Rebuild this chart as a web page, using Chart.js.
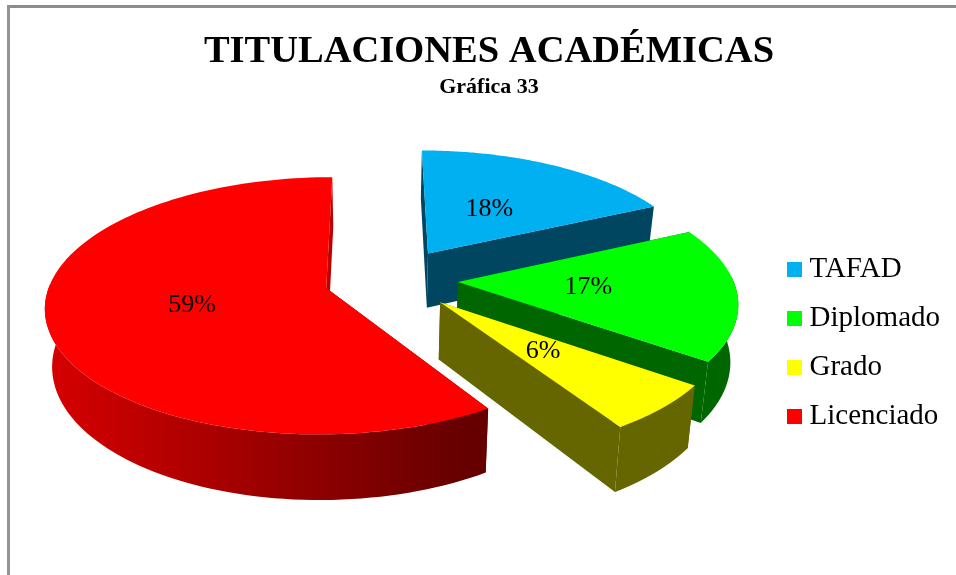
<!DOCTYPE html>
<html lang="es">
<head>
<meta charset="utf-8">
<title>Titulaciones académicas</title>
<script src="https://cdn.jsdelivr.net/npm/chart.js@4/dist/chart.umd.min.js"></script>
<style>
    html, body { margin: 0; background: #fff; overflow: hidden; }
    #lienzo { position: relative; width: 956px; height: 575px; }
    #marco { position: absolute; left: 7px; top: 5px; right: 0; bottom: 0; border-left: 3px solid #949494; border-top: 3px solid #8c8c8c; }
    canvas { position: absolute; left: 0; top: 0; }
</style>
</head>
<body>
<div id="lienzo">
    <div id="marco"></div>
    <canvas id="titulaciones" width="956" height="575"></canvas>
</div>
<script>
const categorias = ['TAFAD', 'Diplomado', 'Grado', 'Licenciado'];
const porcentajes = [18, 17, 6, 59];
const colores = ['#00b0f0', '#00ff00', '#ffff00', '#ff0000'];
const separaciones = [70, 66, 68, 68];
const posicionEtiqueta = [0.47, 0.47, 0.49, 0.49];
const luzCorte = [0.4, 0.4, 0.4, 0.75];

// Parametros de la vista en perspectiva
const inclinacion = 0.45;
const fuga = 0.0005;
const grosor = 56;
const convergencia = 0.022;
const desvioFuga = -16;

const serif = '"Liberation Serif", serif';

function oscurecer(hex, factor) {
    const n = parseInt(hex.slice(1), 16);
    const r = Math.round((n >> 16) * factor);
    const g = Math.round(((n >> 8) & 255) * factor);
    const b = Math.round((n & 255) * factor);
    return `rgb(${r}, ${g}, ${b})`;
}

// Pasa un punto del pastel plano a la pantalla (h = 0 cara superior, h = 1 base)
function proyectar(arco, x, y, h) {
    const atras = arco.y - y;
    const s = 1 / (1 + fuga * atras);
    const fx = arco.x + desvioFuga;
    return {
        x: fx + (x - fx) * s * (1 - convergencia * h),
        y: arco.y - inclinacion * atras * s + grosor * h * s
    };
}

function puntoArco(arco, angulo, radio, h) {
    const medio = (arco.startAngle + arco.endAngle) / 2;
    const d = arco.options.offset;
    const x = arco.x + Math.cos(medio) * d + Math.cos(angulo) * radio;
    const y = arco.y + Math.sin(medio) * d + Math.sin(angulo) * radio;
    return proyectar(arco, x, y, h);
}

function trazar(ctx, puntos, relleno) {
    if (!puntos.length) return;
    ctx.beginPath();
    puntos.forEach((p, i) => i ? ctx.lineTo(p.x, p.y) : ctx.moveTo(p.x, p.y));
    ctx.closePath();
    ctx.fillStyle = relleno;
    ctx.fill();
}

const pastel3d = {
    id: 'pastel3d',
    // Coloca leyenda y titulos donde van en la imagen original
    afterLayout(chart) {
        const l = chart.legend;
        const d = 343 - (l.top + l.bottom) / 2;
        l.top += d;
        l.bottom += d;
        l.left -= 6;
        l.right -= 6;
        l.adjustHitBoxes();
        chart.boxes.filter(b => b.position === 'top').forEach(b => {
            b.left += 9;
            b.right += 9;
        });
    },
    beforeDatasetsDraw(chart) {
        const ctx = chart.ctx;
        const arcos = chart.getDatasetMeta(0).data;

        arcos.forEach((arco, i) => {
            const base = colores[i];
            const r = arco.outerRadius;
            const pasos = 120;
            const superior = [];
            const frenteArriba = [];
            const frenteAbajo = [];
            for (let k = 0; k <= pasos; k++) {
                const a = arco.startAngle + (arco.endAngle - arco.startAngle) * k / pasos;
                superior.push(puntoArco(arco, a, r, 0));
                // La parte de atras de la pared exterior no se ve
                if (Math.sin(a) > -0.05) {
                    frenteArriba.push(puntoArco(arco, a, r, 0));
                    frenteAbajo.push(puntoArco(arco, a, r, 1));
                }
            }
            const vertice = puntoArco(arco, 0, 0, 0);
            const verticeBase = puntoArco(arco, 0, 0, 1);
            const baseInicio = puntoArco(arco, arco.startAngle, r, 1);
            const baseFin = puntoArco(arco, arco.endAngle, r, 1);

            // Paredes de los cortes
            trazar(ctx, [vertice, superior[0], baseInicio, verticeBase], oscurecer(base, 0.4));
            trazar(ctx, [vertice, superior[pasos], baseFin, verticeBase], oscurecer(base, luzCorte[i]));

            // Pared exterior, se apaga de izquierda a derecha
            const degradado = ctx.createLinearGradient(48, 0, 463, 0);
            degradado.addColorStop(0, oscurecer(base, 0.84));
            degradado.addColorStop(1, oscurecer(base, 0.4));
            trazar(ctx, frenteArriba.concat(frenteAbajo.reverse()), degradado);

            // Cara superior
            trazar(ctx, [vertice].concat(superior), base);
        });

        // Porcentajes sobre cada porcion
        ctx.fillStyle = '#000';
        ctx.font = '26px ' + serif;
        ctx.textAlign = 'center';
        ctx.textBaseline = 'middle';
        arcos.forEach((arco, i) => {
            const medio = (arco.startAngle + arco.endAngle) / 2;
            const p = puntoArco(arco, medio, arco.outerRadius * posicionEtiqueta[i], 0);
            ctx.fillText(porcentajes[i] + '%', p.x, p.y);
        });

        return false;
    }
};

const graficoTitulaciones = document.getElementById('titulaciones').getContext('2d');

const titulacionesChart = new Chart(graficoTitulaciones, {
    type: 'pie',
    data: {
        labels: categorias,
        datasets: [{
            data: porcentajes,
            backgroundColor: colores,
            offset: separaciones,
            radius: 275,
            borderWidth: 0
        }]
    },
    options: {
        responsive: false,
        animation: false,
        layout: {
            padding: { left: 4, right: 0, top: 0, bottom: 117 }
        },
        plugins: {
            title: {
                display: true,
                text: 'TITULACIONES ACADÉMICAS',
                color: '#000',
                font: { family: serif, size: 38.5, weight: 'bold' },
                padding: { top: 29, bottom: -3 }
            },
            subtitle: {
                display: true,
                text: 'Gráfica 33',
                color: '#000',
                font: { family: serif, size: 22, weight: 'bold' },
                padding: { top: 2, bottom: 0 }
            },
            legend: {
                position: 'right',
                labels: {
                    color: '#000',
                    font: { family: serif, size: 29 },
                    padding: 20,
                    boxWidth: 1,
                    boxHeight: 1,
                    // El trazo grueso hace de cuadro de 15px pegado al texto
                    generateLabels: chart => categorias.map((texto, i) => ({
                        text: texto,
                        fillStyle: colores[i],
                        strokeStyle: colores[i],
                        lineWidth: 14,
                        fontColor: '#000',
                        index: i
                    }))
                }
            },
            tooltip: { enabled: false }
        }
    },
    plugins: [pastel3d]
});
</script>
</body>
</html>
